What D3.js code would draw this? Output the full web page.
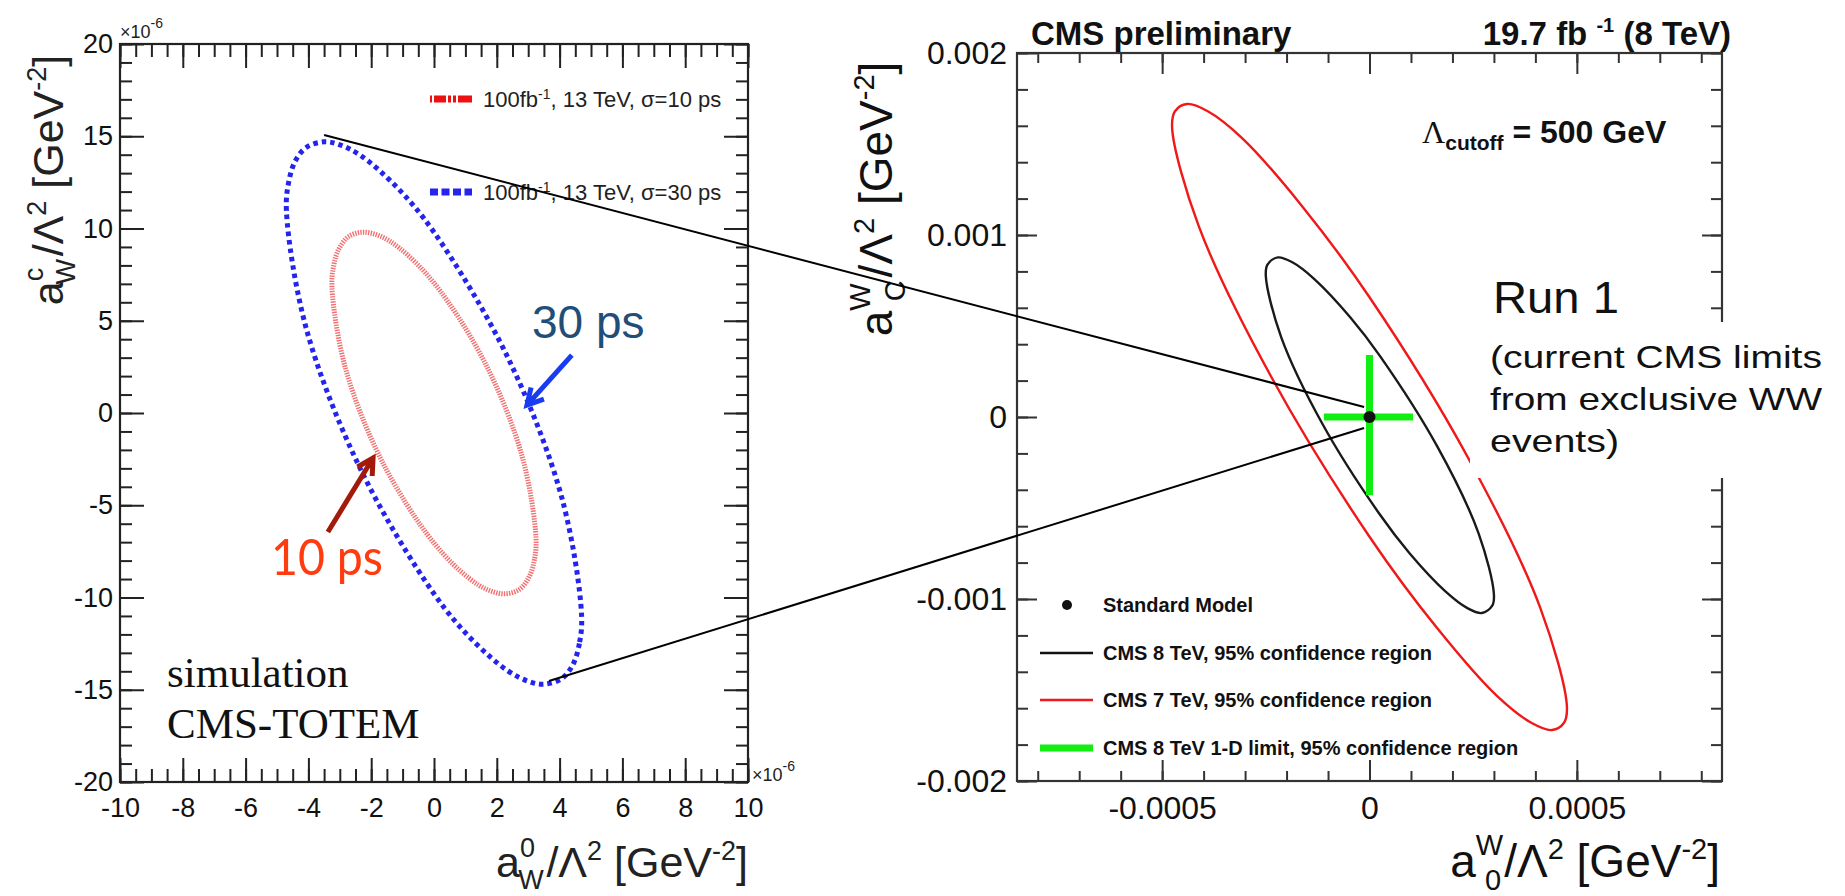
<!DOCTYPE html>
<html>
<head>
<meta charset="utf-8">
<script src="https://cdn.jsdelivr.net/npm/d3@7"></script>
<style>
  body { margin: 0; background: #fff; }
  svg { font-family: "Liberation Sans", Arial, sans-serif; }
</style>
</head>
<body>
<svg id="chart"></svg>
<script>
// left panel: CMS-TOTEM simulation (units of 1e-6)
var simXTicks = [-10, -8, -6, -4, -2, 0, 2, 4, 6, 8, 10];
var simYTicks = [-20, -15, -10, -5, 0, 5, 10, 15, 20];
// contour, [a0W, aCW]
var sim10ps = [[3.25,-6.81],[3.20,-7.93],[3.05,-8.81],[2.73,-9.55],[2.26,-9.80],[1.72,-9.59],[1.11,-8.95],[0,-7.05],
  [-1.63,-2.70],[-2.81,2.37],[-3.25,6.81],[-3.20,7.93],[-3.05,8.81],[-2.73,9.55],[-2.26,9.80],[-1.72,9.59],
  [-1.11,8.95],[0,7.05],[1.63,2.70],[2.81,-2.37]];
var sim30ps = [[4.70,-10.96],[4.63,-12.49],[4.42,-13.65],[4.07,-14.39],[3.50,-14.70],[3.02,-14.55],[2.35,-13.97],
  [1.22,-12.30],[0,-9.80],[-2.35,-3.01],[-4.07,4.59],[-4.70,10.96],[-4.63,12.49],[-4.42,13.65],[-4.07,14.39],
  [-3.50,14.70],[-3.02,14.55],[-2.35,13.97],[-1.22,12.30],[0,9.80],[2.35,3.01],[4.07,-4.59]];
var simLegend = ["10", "30"];   // sigma in ps

// right panel: CMS 8 TeV preliminary
var cmsXTicks = [-0.0005, 0, 0.0005];
var cmsYTicks = [-0.002, -0.001, 0, 0.001, 0.002];
var cms7TeV = [[0.000476,-0.00159],[0.000469,-0.00168],[0.000440,-0.00172],[0.000390,-0.00168],[0.000306,-0.00153],
  [0.000163,-0.00116],[0,-0.000658],[-0.000238,0.000225],[-0.000412,0.00105],[-0.000476,0.00159],[-0.000469,0.00168],
  [-0.000440,0.00172],[-0.000390,0.00168],[-0.000306,0.00153],[-0.000163,0.00116],[0,0.000658],[0.000238,-0.000225],
  [0.000412,-0.00105]];
var cms8TeV = [[0.000300,-0.000974],[0.000296,-0.001037],[0.000271,-0.001077],[0.000236,-0.00105],[0.000183,-0.000958],
  [0.000096,-0.000747],[0.000025,-0.000536],[-0.000113,-0.00004],[-0.000213,0.000439],[-0.000250,0.000774],
  [-0.000246,0.000837],[-0.000221,0.000877],[-0.000186,0.00085],[-0.000133,0.000758],[-0.000046,0.000547],
  [0.000025,0.000336],[0.000163,-0.00016],[0.000263,-0.000639]];
var limitA0 = [-0.00011, 0.000105];
var limitAC = [-0.00043, 0.00034];
var standardModel = [0, 0];
var cmsLegend = ["Standard Model", "CMS 8 TeV, 95% confidence region",
  "CMS 7 TeV, 95% confidence region", "CMS 8 TeV 1-D limit, 95% confidence region"];

var svgWidth = 1845, svgHeight = 896;
var svg = d3.select("#chart").attr("width", svgWidth).attr("height", svgHeight);

var simX = d3.scaleLinear().domain([-10, 10]).range([120, 748]);
var simY = d3.scaleLinear().domain([-20, 20]).range([782, 44]);
var cmsX = d3.scaleLinear().domain([-0.00085, 0.00085]).range([1017, 1722]);
var cmsY = d3.scaleLinear().domain([-0.002, 0.002]).range([781, 53]);

function addTicks(g, axis, values, len, transform, color, labels, pad, fs) {
  var a = axis.tickValues(values).tickSizeInner(-len).tickSizeOuter(0).tickPadding(pad || 0)
    .tickFormat(labels ? function(d) { return String(d); } : "");
  var ag = g.append("g").attr("transform", transform).call(a);
  ag.select(".domain").remove();
  ag.attr("font-family", null).attr("font-size", fs || 10);
  ag.selectAll("line").attr("stroke", color).attr("stroke-width", 2);
  ag.selectAll("text").attr("fill", "#111");
}

function frame(g, x, y, o) {
  var x0 = x.range()[0], x1 = x.range()[1], yb = y.range()[0], yt = y.range()[1];
  g.append("rect").attr("x", x0).attr("y", yt).attr("width", x1 - x0).attr("height", yb - yt)
    .attr("fill", "none").attr("stroke", o.color).attr("stroke-width", 2.2);
  addTicks(g, d3.axisBottom(x), o.xMinor, o.xMin, `translate(0,${yb})`, o.color, false);
  addTicks(g, d3.axisBottom(x), o.xMajor, o.xMaj, `translate(0,${yb})`, o.color, true, o.xPad, o.fs);
  addTicks(g, d3.axisTop(x), o.xMinor, o.xMin, `translate(0,${yt})`, o.color, false);
  addTicks(g, d3.axisTop(x), o.xMajor, o.xMaj, `translate(0,${yt})`, o.color, false);
  addTicks(g, d3.axisLeft(y), o.yMinor, o.yMin, `translate(${x0},0)`, o.color, false);
  addTicks(g, d3.axisLeft(y), o.yMajor, o.yMaj, `translate(${x0},0)`, o.color, true, o.yPad, o.fs);
  addTicks(g, d3.axisRight(y), o.yMinor, o.yMin, `translate(${x1},0)`, o.color, false);
  addTicks(g, d3.axisRight(y), o.yMajor, o.yMaj, `translate(${x1},0)`, o.color, false);
}

// title like a^sup_sub/Λ^2 [GeV^-2]
function axisTitle(t, sup, sub, fs, sfs) {
  t.append("tspan").text("a");
  t.append("tspan").attr("font-size", sfs).attr("dy", -0.47 * fs).text(sup);
  t.append("tspan").attr("font-size", sfs).attr("dx", -0.62 * sfs).attr("dy", 0.76 * fs).text(sub);
  t.append("tspan").attr("dx", 0.1 * sfs).attr("dy", -0.29 * fs).text("/\u039b");
  t.append("tspan").attr("font-size", sfs).attr("dy", -0.4 * fs).text("2");
  t.append("tspan").attr("dy", 0.4 * fs).text(" [GeV");
  t.append("tspan").attr("font-size", sfs).attr("dy", -0.4 * fs).text("-2");
  t.append("tspan").attr("dy", 0.4 * fs).text("]");
}

// ---------- left panel ----------
var left = svg.append("g").attr("id", "sim");
frame(left, simX, simY, {
  color: "#222", fs: 27,
  xMajor: simXTicks, xMinor: d3.range(-10, 10.01, 0.5), xMaj: 24, xMin: 13, xPad: 16,
  yMajor: simYTicks, yMinor: d3.range(-20, 20.01, 1), yMaj: 24, yMin: 12, yPad: 7
});

var simLine = d3.line().x(d => simX(d[0])).y(d => simY(d[1])).curve(d3.curveCatmullRomClosed.alpha(0.5));

left.append("path").attr("d", simLine(sim10ps))
  .attr("fill", "none").attr("stroke", "#ee4d4d").attr("stroke-width", 5)
  .attr("stroke-dasharray", "1.4,1.2").attr("opacity", 0.8);
left.append("path").attr("d", simLine(sim30ps))
  .attr("fill", "none").attr("stroke", "#2424ee").attr("stroke-width", 5)
  .attr("stroke-dasharray", "4.5,4");

// legend
var simLeg = left.append("g");
[99, 192].forEach(function(yy, i) {
  simLeg.append("line").attr("x1", 430).attr("x2", 472).attr("y1", yy).attr("y2", yy)
    .attr("stroke", i == 0 ? "#ee1111" : "#2424ee").attr("stroke-width", 7)
    .attr("stroke-dasharray", i == 0 ? "2,2,12,2,3,2,3,2,14" : "8,3.5");
  var t = simLeg.append("text").attr("x", 483).attr("y", yy + 8).attr("font-size", 22).attr("fill", "#222");
  t.append("tspan").text("100fb");
  t.append("tspan").attr("font-size", 14).attr("dy", -8).text("-1");
  t.append("tspan").attr("dy", 8).text(", 13 TeV, \u03c3=" + simLegend[i] + " ps");
});

// x10^-6 labels
function expLabel(g, x, y) {
  var t = g.append("text").attr("x", x).attr("y", y).attr("font-size", 18).attr("fill", "#222");
  t.append("tspan").text("\u00d710");
  t.append("tspan").attr("font-size", 14).attr("dy", -10).text("-6");
}
expLabel(left, 120, 38);
expLabel(left, 752, 781);

// axis titles
axisTitle(left.append("text").attr("transform", "translate(63,180) rotate(-90)")
  .attr("text-anchor", "middle").attr("font-size", 43).attr("fill", "#222"), "c", "W", 43, 27);
axisTitle(left.append("text").attr("x", 748).attr("y", 877)
  .attr("text-anchor", "end").attr("font-size", 43).attr("fill", "#222"), "0", "W", 43, 27);

left.append("text").attr("x", 167).attr("y", 687).style("font-family", "'Liberation Serif', 'Times New Roman', serif")
  .attr("font-size", 43).attr("fill", "#111").text("simulation");
left.append("text").attr("x", 167).attr("y", 738).style("font-family", "'Liberation Serif', 'Times New Roman', serif")
  .attr("font-size", 43).attr("fill", "#111").text("CMS-TOTEM");

// ---------- right panel ----------
var right = svg.append("g").attr("id", "cms");
frame(right, cmsX, cmsY, {
  color: "#333", fs: 32,
  xMajor: cmsXTicks, xMinor: d3.range(-0.0008, 0.00081, 0.0001), xMaj: 21, xMin: 10, xPad: 15,
  yMajor: cmsYTicks, yMinor: d3.range(-0.002, 0.00201, 0.0002), yMaj: 20, yMin: 11, yPad: 10
});

var cmsLine = d3.line().x(d => cmsX(d[0])).y(d => cmsY(d[1])).curve(d3.curveCatmullRomClosed.alpha(0.5));
right.append("path").attr("d", cmsLine(cms7TeV)).attr("fill", "none").attr("stroke", "#f01818").attr("stroke-width", 2.4);
right.append("path").attr("d", cmsLine(cms8TeV)).attr("fill", "none").attr("stroke", "#1a1a1a").attr("stroke-width", 2.4);

right.append("line").attr("x1", cmsX(limitA0[0])).attr("x2", cmsX(limitA0[1]))
  .attr("y1", cmsY(standardModel[1])).attr("y2", cmsY(standardModel[1]))
  .attr("stroke", "#11ee11").attr("stroke-width", 7);
right.append("line").attr("x1", cmsX(standardModel[0])).attr("x2", cmsX(standardModel[0]))
  .attr("y1", cmsY(limitAC[0])).attr("y2", cmsY(limitAC[1]))
  .attr("stroke", "#11ee11").attr("stroke-width", 7);
right.append("circle").attr("cx", cmsX(standardModel[0])).attr("cy", cmsY(standardModel[1]))
  .attr("r", 6).attr("fill", "#111");

// legend
var legY = [605, 653, 700, 748];
var cmsLeg = right.append("g");
cmsLeg.append("circle").attr("cx", 1067).attr("cy", legY[0]).attr("r", 5).attr("fill", "#111");
[["#111", 2.5], ["#f01818", 2.5], ["#11ee11", 7]].forEach(function(s, i) {
  cmsLeg.append("line").attr("x1", 1040).attr("x2", 1093).attr("y1", legY[i + 1]).attr("y2", legY[i + 1])
    .attr("stroke", s[0]).attr("stroke-width", s[1]);
});
cmsLegend.forEach(function(name, i) {
  cmsLeg.append("text").attr("x", 1103).attr("y", legY[i] + 7).attr("font-size", 20)
    .attr("font-weight", "bold").attr("fill", "#111").text(name);
});

// header
right.append("text").attr("x", 1031).attr("y", 45).attr("font-size", 33).attr("font-weight", "bold")
  .attr("fill", "#111").text("CMS preliminary");
var lumi = right.append("text").attr("x", 1731).attr("y", 45).attr("text-anchor", "end")
  .attr("font-size", 33).attr("font-weight", "bold").attr("fill", "#111");
lumi.append("tspan").text("19.7 fb ");
lumi.append("tspan").attr("font-size", 20).attr("dy", -13).text("-1");
lumi.append("tspan").attr("dy", 13).text(" (8 TeV)");

var cut = right.append("text").attr("x", 1422).attr("y", 143).attr("font-size", 32)
  .attr("font-weight", "bold").attr("fill", "#111");
cut.append("tspan").attr("font-weight", "normal").style("font-family", "'Liberation Serif', serif").text("\u039b");
cut.append("tspan").attr("font-size", 21).attr("dy", 7).text("cutoff");
cut.append("tspan").attr("dy", -7).text(" = 500 GeV");

axisTitle(right.append("text").attr("transform", "translate(892,199) rotate(-90)")
  .attr("text-anchor", "middle").attr("font-size", 46).attr("fill", "#111"), "W", "C", 46, 29);
axisTitle(right.append("text").attr("x", 1720).attr("y", 877).attr("text-anchor", "end")
  .attr("font-size", 46).attr("fill", "#111"), "W", "0", 46, 29);

// ---------- annotations ----------
var notes = svg.append("g");
notes.append("rect").attr("x", 1470).attr("y", 322).attr("width", 375).attr("height", 156).attr("fill", "#fff");
notes.append("text").attr("x", 1493).attr("y", 313).attr("font-size", 45).attr("fill", "#111")
  .attr("textLength", 126).attr("lengthAdjust", "spacingAndGlyphs").text("Run 1");
[["(current CMS limits", 368, 332], ["from exclusive WW", 410, 332], ["events)", 452, 129]].forEach(function(r) {
  notes.append("text").attr("x", 1490).attr("y", r[1]).attr("font-size", 32).attr("fill", "#111")
    .attr("textLength", r[2]).attr("lengthAdjust", "spacingAndGlyphs").text(r[0]);
});

notes.append("text").attr("x", 532).attr("y", 338).attr("font-size", 46).attr("fill", "#1f4e79").text("30 ps");
notes.append("text").attr("x", 271).attr("y", 575).attr("font-size", 50).style("font-family", "Lato, sans-serif")
  .attr("fill", "#ff3b10").attr("textLength", 112).attr("lengthAdjust", "spacingAndGlyphs").text("10 ps");

function arrow(g, tail, tip, color, w, head) {
  var x1 = simX(tail[0]), y1 = simY(tail[1]), x2 = simX(tip[0]), y2 = simY(tip[1]);
  var ang = Math.atan2(y2 - y1, x2 - x1);
  var h1 = [x2 - head * Math.cos(ang - 0.5), y2 - head * Math.sin(ang - 0.5)];
  var h2 = [x2 - head * Math.cos(ang + 0.5), y2 - head * Math.sin(ang + 0.5)];
  g.append("path").attr("d", `M${x1},${y1}L${x2},${y2}M${h1}L${x2},${y2}L${h2}`)
    .attr("fill", "none").attr("stroke", color).attr("stroke-width", w).attr("stroke-linejoin", "miter");
}
arrow(notes, [4.39, 3.14], [2.96, 0.43], "#1a3cf0", 5, 18);
arrow(notes, [-3.38, -6.45], [-1.94, -2.44], "#a3190a", 5, 18);

// zoom lines from the simulated contour to the Run 1 plot
var links = [[[-3.5, 15.07], [-0.000013, 0.000055]], [[3.66, -14.53], [-0.000013, -0.00006]]];
links.forEach(function(l) {
  notes.append("line").attr("x1", simX(l[0][0])).attr("y1", simY(l[0][1]))
    .attr("x2", cmsX(l[1][0])).attr("y2", cmsY(l[1][1]))
    .attr("stroke", "#000").attr("stroke-width", 2);
});
</script>
</body>
</html>
